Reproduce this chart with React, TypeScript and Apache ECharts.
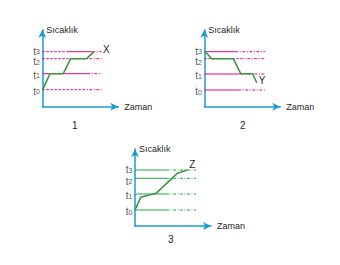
import React, { useEffect, useRef } from "react";
import * as echarts from "echarts";

// ---- data ----
const subscripts = ["0", "1", "2", "3"];
const levels1 = [17, 33, 48, 55];
const levels2 = [16.7, 32.7, 48, 55];
const levels3 = [16, 32, 47.7, 56];

const curve1X = [0.4, 7.7, 21, 28.4, 44.4, 51.7];
const curve1Y = [17, 33, 33, 48, 48, 55];
const curve2X = [0, 7.4, 29, 36.4, 48.4, 52.4];
const curve2Y = [56, 48, 48, 33, 33, 24];
const curve3X = [0, 5.7, 21, 42.3, 52.3];
const curve3Y = [16, 28.7, 32.7, 52.7, 56];

const curveNames = ["X", "Y", "Z"];
const chartNumbers = ["1", "2", "3"];

// segments per level: [kind, from, to]  s = solid, d = dashed, dd = dash-dot
const segs1: [string, number, number][][] = [
  [["d", 0, 40], ["dd", 40, 59.4]],
  [["s", 0, 45], ["dd", 45, 59.4]],
  [["d", 0, 40], ["dd", 40, 59.4]],
  [["d", 0, 24], ["s", 24, 50], ["dd", 50, 59.4]],
];
const segs2: [string, number, number][][] = [
  [["s", 0, 34], ["dd", 34, 60.7]],
  [["s", 0, 36], ["dd", 36, 60.7]],
  [["d", 0, 36], ["dd", 36, 60.7]],
  [["s", 0, 31], ["dd", 31, 60.7]],
];
const segs3: [string, number, number][][] = [
  [["s", 0, 31], ["dd", 31, 61]],
  [["s", 0, 31], ["dd", 31, 61]],
  [["s", 0, 31], ["dd", 31, 61]],
  [["s", 0, 31], ["dd", 31, 61]],
];

const AXIS_COLOR = "#1b9ad8";
const PINK = "#ec008c";
const GREEN_LEVEL = "#1fa84a";
const GREEN_CURVE = "#3a9a40";
const TEXT = "#231f20";
const FONT = "Liberation Sans, Arial, sans-serif";

export default function App() {
  const ref = useRef<HTMLDivElement>(null);
  useEffect(() => {
    if (!ref.current) return;
    const chart = echarts.init(ref.current, undefined, { renderer: "svg" });

    const grids = [
      { left: 42.3, top: 29.7, width: 76, height: 77 },
      { left: 204.3, top: 29.7, width: 76, height: 77 },
      { left: 135, top: 149, width: 76, height: 77 },
    ];
    const levelsAll = [levels1, levels2, levels3];
    const segsAll = [segs1, segs2, segs3];
    const levelColors = [PINK, PINK, GREEN_LEVEL];
    const curves = [
      [curve1X, curve1Y],
      [curve2X, curve2Y],
      [curve3X, curve3Y],
    ];
    const endLabelCfg = [
      { distance: 9, offset: [0, -2] },
      { distance: 2, offset: [0, -2] },
      { distance: 2, offset: [0, -6] },
    ];
    const labelShift = [1, 1, 2.5, -1];

    const xAxis: any[] = [];
    const yAxis: any[] = [];
    const series: any[] = [];

    grids.forEach((g, i) => {
      const levels = levelsAll[i];
      xAxis.push({
        gridIndex: i,
        type: "value",
        min: 0,
        max: 76,
        name: "Zaman",
        nameLocation: "end",
        nameGap: 6,
        nameTextStyle: {
          color: TEXT,
          fontSize: 9,
          fontFamily: FONT,
          align: "left",
          verticalAlign: "middle",
        },
        axisLine: {
          show: true,
          lineStyle: { color: AXIS_COLOR, width: 1.5 },
          symbol: ["none", "arrow"],
          symbolSize: [6, 8],
        },
        axisTick: { show: false },
        axisLabel: { show: false },
        splitLine: { show: false },
      });
      yAxis.push({
        gridIndex: i,
        type: "value",
        min: 0,
        max: 77,
        name: "Sıcaklık",
        nameLocation: "end",
        nameGap: 0,
        nameTextStyle: {
          color: TEXT,
          fontSize: 9,
          fontFamily: FONT,
          align: "left",
          verticalAlign: "middle",
          padding: [0, 0, 0, 4],
        },
        axisLine: {
          show: true,
          lineStyle: { color: AXIS_COLOR, width: 1.5 },
          symbol: ["none", "arrow"],
          symbolSize: [6, 8],
        },
        axisTick: { show: false },
        splitLine: { show: false },
        axisLabel: { show: false },
      });

      // level labels t0..t3
      series.push({
        type: "scatter",
        xAxisIndex: i,
        yAxisIndex: i,
        silent: true,
        symbolSize: 1,
        clip: false,
        itemStyle: { color: "rgba(0,0,0,0)" },
        data: levels.map((l, k) => ({
          value: [0, l],
          label: {
            show: true,
            position: "left",
            distance: 2,
            offset: [0, labelShift[k]],
            formatter: "{t|t}{s|" + subscripts[k] + "}",
            rich: {
              t: {
                fontSize: 10,
                color: TEXT,
                fontFamily: FONT,
                lineHeight: 9,
                verticalAlign: "top",
              },
              s: {
                fontSize: 7,
                color: TEXT,
                fontFamily: FONT,
                lineHeight: 6,
                padding: [5, 0, 0, 0],
                verticalAlign: "bottom",
              },
            },
          },
        })),
      });

      // level lines
      segsAll[i].forEach((segList, k) => {
        segList.forEach(([kind, a, b]) => {
          series.push({
            type: "line",
            xAxisIndex: i,
            yAxisIndex: i,
            data: [
              [a, levels[k]],
              [b, levels[k]],
            ],
            symbol: "none",
            silent: true,
            z: 2,
            lineStyle: {
              color: levelColors[i],
              width: 1,
              type: kind === "s" ? "solid" : kind === "d" ? [2.5, 1.5] : [3, 1.5, 1, 1.5],
            },
          });
        });
      });

      // curve
      const [cx, cy] = curves[i];
      series.push({
        type: "line",
        xAxisIndex: i,
        yAxisIndex: i,
        data: cx.map((x, k) => [x, cy[k]]),
        symbol: "none",
        z: 5,
        lineStyle: { color: GREEN_CURVE, width: 1.6 },
        endLabel: {
          show: true,
          formatter: curveNames[i],
          color: TEXT,
          fontSize: 10,
          fontFamily: FONT,
          distance: endLabelCfg[i].distance,
          offset: endLabelCfg[i].offset,
        },
      });
    });

    chart.setOption({
      animation: false,
      backgroundColor: "#ffffff",
      title: [
        { text: chartNumbers[0], left: 72, top: 120 },
        { text: chartNumbers[1], left: 240, top: 120 },
        { text: chartNumbers[2], left: 168, top: 234 },
      ].map((t) => ({
        ...t,
        padding: 0,
        textStyle: {
          fontSize: 10,
          fontWeight: "normal",
          color: TEXT,
          fontFamily: FONT,
        },
      })),
      grid: grids,
      xAxis,
      yAxis,
      series,
    });

    return () => chart.dispose();
  }, []);

  return (
    <div
      ref={ref}
      style={{ position: "fixed", left: 0, top: 0, width: 340, height: 265 }}
    />
  );
}
